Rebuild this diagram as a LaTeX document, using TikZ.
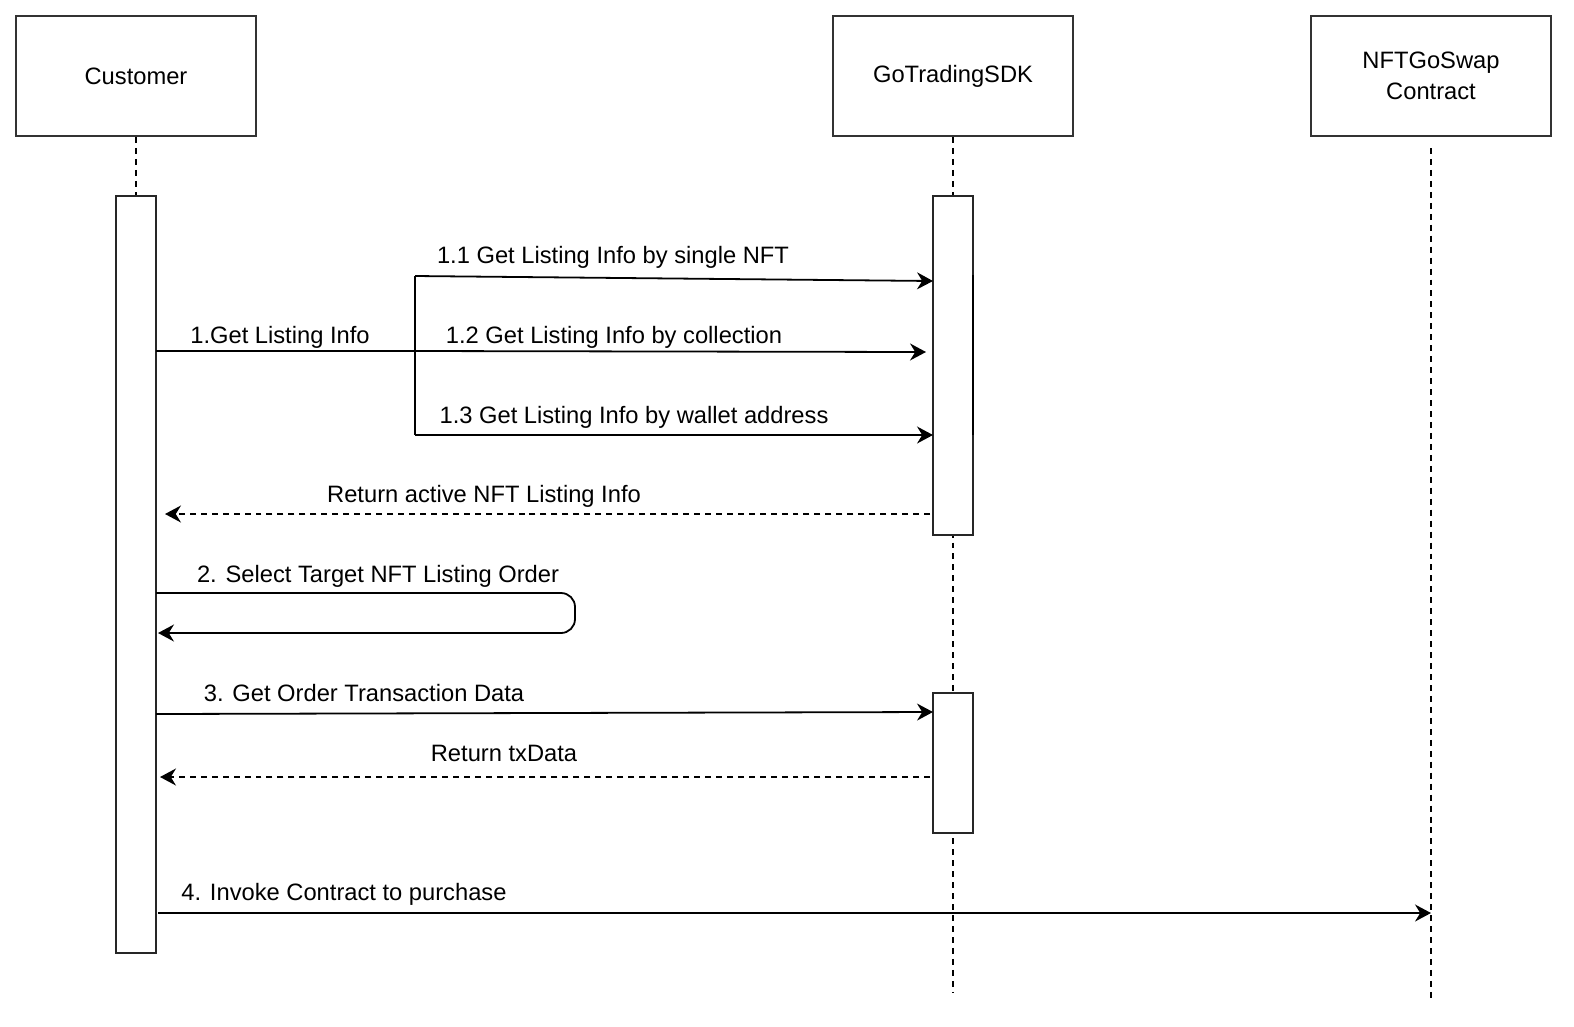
\documentclass[tikz,border=0pt]{standalone}
\usepackage{fontspec}
\setmainfont{Liberation Sans}
\usetikzlibrary{arrows.meta}
\begin{document}
\begin{tikzpicture}[x=0.5bp,y=-0.5bp,
  every node/.style={font=\fontsize{11.9}{14.3}\selectfont, inner sep=0pt},
  party/.style={draw=black!80, line width=1pt, minimum width=120bp, minimum height=60bp, align=center, fill=white},
  act/.style={draw=black!85, line width=1pt, fill=white, minimum width=20bp},
  life/.style={line width=0.9pt, dash pattern=on 3pt off 2.5pt},
  msg/.style={line width=0.9pt, -{Stealth[length=8pt,width=8.5pt,inset=2.6pt]}},
  ret/.style={msg, dash pattern=on 3pt off 2.5pt},
  lbl/.style={anchor=base}
]
\useasboundingbox (0,0) rectangle (1574,1026);
% participants
\node[party] (cust) at (136,76) {Customer};
\node[party] (sdk) at (953,76) {GoTradingSDK};
\node[party] (swap) at (1431,76) {NFTGoSwap\\[1pt]Contract};
% lifelines
\coordinate (sdkend) at (953,993);
\coordinate (swaptop) at (1431,148);
\coordinate (swapend) at (1431,1002);
\draw[life] (cust.south) -- (136,196);
\draw[life] (sdk.south) -- (sdkend);
\draw[life] (swaptop) -- (swapend);
% activations
\node[act, minimum height=378.5bp] (actC) at (136,574.5) {};
\node[act, minimum height=169.5bp] (actS1) at (953,365.5) {};
\node[act, minimum height=70bp] (actS2) at (953,763) {};
\draw[line width=1.3pt] (973,275) -- (973,435);
% message coordinates
\coordinate (c1) at (156,351);
\coordinate (fork) at (415,351);
\coordinate (f1) at (415,276);
\coordinate (f3) at (415,435);
\coordinate (t1) at (933,281);
\coordinate (t2) at (926,352);
\coordinate (t3) at (933,435);
\coordinate (r1s) at (930,514);
\coordinate (r1e) at (165,514);
\coordinate (s2a) at (156,593);
\coordinate (s2c) at (575,633);
\coordinate (s2e) at (158,633);
\coordinate (m3s) at (156,714);
\coordinate (m3e) at (933,712);
\coordinate (r2s) at (930,777);
\coordinate (r2e) at (160,777);
\coordinate (m4s) at (158,913);
\coordinate (m4e) at (1431,913);
% messages
\draw[line width=0.9pt] (c1) -- (fork);
\draw[line width=0.9pt] (f1) -- (f3);
\draw[msg] (f1) -- (t1);
\draw[msg] (fork) -- (t2);
\draw[msg] (f3) -- (t3);
\draw[ret] (r1s) -- (r1e);
\draw[msg, rounded corners=7pt] (s2a) -- (s2a -| s2c) -- (s2c) -- (s2e);
\draw[msg] (m3s) -- (m3e);
\draw[ret] (r2s) -- (r2e);
\draw[msg] (m4s) -- (m4e);
% labels
\node[lbl] (l1) at (280,343) {1.Get Listing Info};
\node[lbl] (l11) at (613,263) {1.1 Get Listing Info by single NFT};
\node[lbl] (l12) at (614,343) {1.2 Get Listing Info by collection};
\node[lbl] (l13) at (634,423) {1.3 Get Listing Info by wallet address};
\node[lbl] (lr1) at (484,502) {Return active NFT Listing Info};
\node[lbl] (l2) at (378,582) {2. Select Target NFT Listing Order};
\node[lbl] (l3) at (364,701) {3. Get Order Transaction Data};
\node[lbl] (lr2) at (504,761) {Return txData};
\node[lbl] (l4) at (344,900) {4. Invoke Contract to purchase};
\end{tikzpicture}
\end{document}
